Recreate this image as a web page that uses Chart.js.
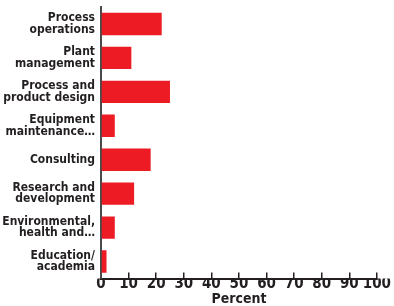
<!DOCTYPE html>
<html>
<head>
<meta charset="utf-8">
<script src="https://cdn.jsdelivr.net/npm/chart.js@4"></script>
<style>
  html, body { margin: 0; padding: 0; background: #fff; }
  #wrap { width: 394px; height: 306px; }
</style>
</head>
<body>
<div id="wrap"><canvas id="grafica"></canvas></div>
<script>
// datos
var categorias = [
    ['Process', 'operations'],
    ['Plant', 'management'],
    ['Process and', 'product design'],
    ['Equipment', 'maintenance\u2026'],
    'Consulting',
    ['Research and', 'development'],
    ['Environmental,', 'health and\u2026'],
    ['Education/', 'academia']
];
var porcentajes = [22, 11, 25, 5, 18, 12, 5, 2];
var tituloX = 'Percent';

var fuente = '"DejaVu Sans Condensed", "DejaVu Sans", sans-serif';

var ctx = document.getElementById('grafica').getContext('2d');
var chart = new Chart(ctx, {
    type: 'bar',
    data: {
        labels: categorias,
        datasets: [{
            data: porcentajes,
            backgroundColor: '#ed1c24',
            borderWidth: 0,
            categoryPercentage: 1,
            barPercentage: 0.66
        }]
    },
    options: {
        indexAxis: 'y',
        responsive: true,
        maintainAspectRatio: false,
        animation: false,
        layout: { padding: { top: 7, right: 1, bottom: 0, left: 0 } },
        plugins: {
            legend: { display: false },
            tooltip: { enabled: false }
        },
        scales: {
            x: {
                min: 0,
                max: 100,
                ticks: {
                    stepSize: 10,
                    autoSkip: false,
                    color: '#231f20',
                    padding: 3,
                    maxRotation: 0,
                    font: { family: fuente, size: 15, weight: 'bold', lineHeight: 1.1 }
                },
                grid: {
                    drawOnChartArea: false,
                    drawTicks: true,
                    tickLength: -6,
                    color: '#231f20',
                    lineWidth: 1.5
                },
                border: { color: '#231f20', width: 2 },
                title: {
                    display: true,
                    text: tituloX,
                    color: '#231f20',
                    padding: { top: -3, bottom: 0 },
                    font: { family: fuente, size: 14, weight: 'bold', lineHeight: 1 }
                }
            },
            y: {
                afterFit: function (scale) {
                    scale.width = 101;
                    scale.paddingTop = 0;
                    scale.paddingBottom = 0;
                },
                ticks: {
                    color: '#231f20',
                    padding: 6,
                    font: { family: fuente, size: 12, weight: 'bold', lineHeight: 0.95 }
                },
                grid: { display: false, drawTicks: false },
                border: { color: '#4a4a4a', width: 2 }
            }
        }
    }
});
</script>
</body>
</html>
